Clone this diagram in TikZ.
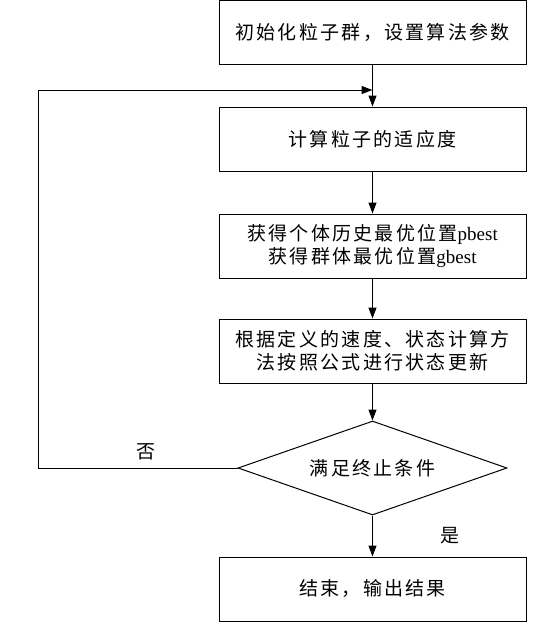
\documentclass[tikz,border=0pt]{standalone}
\usepackage{fontspec}
\setmainfont{Liberation Serif}
\newfontfamily\cjk[LetterSpace=12]{Noto Sans CJK SC}
\newfontfamily\cjkn{Noto Sans CJK SC}
\usetikzlibrary{shapes.geometric,arrows.meta}
\begin{document}
\begin{tikzpicture}[x=1pt,y=-1pt,
  box/.style={draw,line width=1pt,minimum width=307pt,minimum height=64pt,inner sep=0pt,align=center,font=\fontsize{19pt}{23pt}\selectfont\cjk},
  dec/.style={draw,line width=1pt,diamond,minimum width=269pt,minimum height=94pt,aspect=2.86,inner sep=0pt,font=\fontsize{19pt}{23pt}\selectfont\cjk},
  lbl/.style={font=\fontsize{19pt}{23pt}\selectfont\cjkn,inner sep=0pt},
  arr/.style={line width=1pt,-{Triangle[length=11pt,width=8pt]}},
  ln/.style={line width=1pt}]
\useasboundingbox (0,0) rectangle (545,624);
\node[box] (b1) at (372.5,32.5) {初始化粒子群，设置算法参数};
\node[box] (b2) at (372.5,139) {计算粒子的适应度};
\node[box] (b3) at (372.5,246) {获得个体历史最优位置{\rmfamily pbest}\\获得群体最优位置{\rmfamily gbest}};
\node[box] (b4) at (372.5,351) {根据定义的速度、状态计算方\\法按照公式进行状态更新};
\node[dec] (d) at (372.5,468) {满足终止条件};
\node[box] (b5) at (372.5,589) {结束，输出结果};
\coordinate (lc) at (38,90);
\coordinate (jn) at (372.5,90);
\draw[arr] (b1) -- (b2);
\draw[arr] (b2) -- (b3);
\draw[arr] (b3) -- (b4);
\draw[arr] (b4) -- (d);
\draw[arr] (d) -- (b5);
\draw[arr] (d.west) -| (lc) -- (jn);
\node[lbl] (no) at (146,452) {否};
\node[lbl] (yes) at (450,536) {是};
\end{tikzpicture}
\end{document}
